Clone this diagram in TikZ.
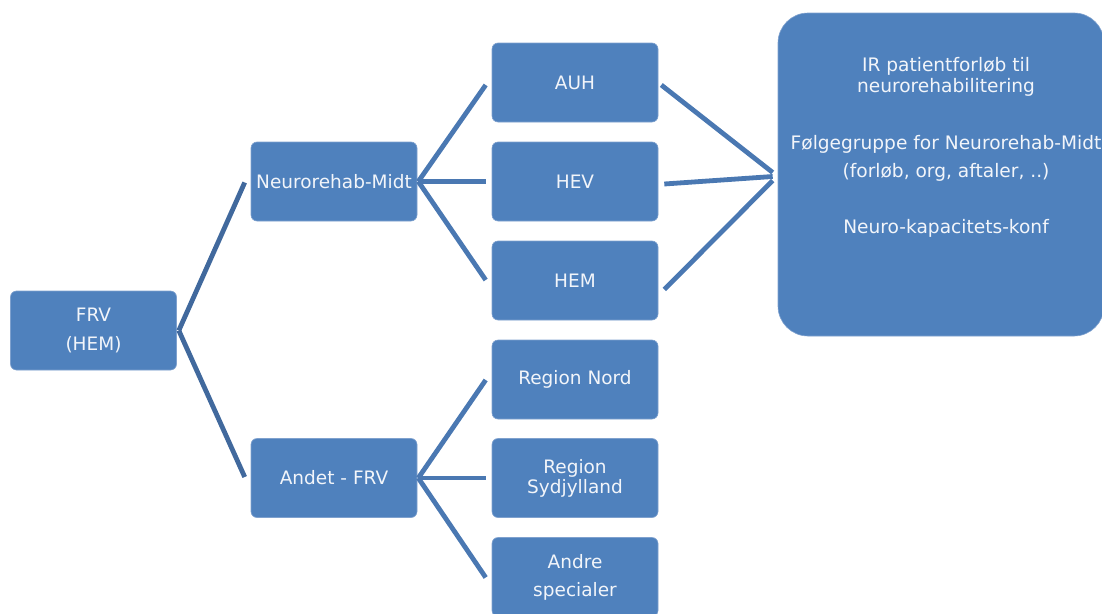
\documentclass[tikz,border=0pt]{standalone}
\usepackage{fontspec}
\setmainfont{DejaVu Sans}
\definecolor{boxfill}{HTML}{4F81BD}
\definecolor{boxline}{HTML}{7FA1CE}
\definecolor{conna}{HTML}{4A78B2}
\definecolor{connb}{HTML}{41699D}
\definecolor{txt}{HTML}{F2F5FA}
\tikzset{
  orgbox/.style={draw=boxline, line width=0.6pt, fill=boxfill, rounded corners=6pt,
    minimum width=166pt, minimum height=79pt, inner sep=0pt, align=center,
    text=txt, font=\fontsize{18.5}{21}\selectfont},
  bigbox/.style={draw=boxline, line width=0.6pt, fill=boxfill, rounded corners=30pt,
    minimum width=326pt, minimum height=323pt, inner sep=0pt},
  bigtxt/.style={align=center, text=txt, inner sep=0pt, font=\fontsize{18.6}{21}\selectfont},
  conn/.style={draw=conna, line width=4.8pt},
  connd/.style={draw=connb, line width=4.8pt},
}
\begin{document}
\begin{tikzpicture}[x=1pt,y=-1pt]
\useasboundingbox (0,0) rectangle (1102,613);
\clip (0,0) rectangle (1102,613);
% nodes
\node[orgbox] (frv) at (93.5,330.5) {FRV\\[8pt](HEM)};
\node[orgbox] (nm) at (334,181.5) {Neurorehab-Midt};
\node[orgbox] (af) at (334,478) {Andet - FRV};
\node[orgbox] (auh) at (575,82.5) {AUH};
\node[orgbox] (hev) at (575,181.5) {HEV};
\node[orgbox] (hem) at (575,280.5) {HEM};
\node[orgbox] (rn) at (575,379.5) {Region Nord};
\node[orgbox] (rs) at (575,478) {Region\\[-1pt]Sydjylland};
\node[orgbox] (as) at (575,577) {Andre\\[7pt]specialer};
\node[bigbox] (big) at (941,174.5) {};
\node[bigtxt] (t1) at (946,77) {IR patientforløb til\\[0pt]neurorehabilitering};
\node[bigtxt] (t2) at (946,158) {Følgegruppe for Neurorehab-Midt\\[7pt](forløb, org, aftaler, ..)};
\node[bigtxt] (t3) at (946,228) {Neuro-kapacitets-konf};
% connectors
\coordinate (frvR) at ([xshift=2pt]frv.east);
\draw[connd] (frvR) -- ([shift={(-6pt,-1pt)}]nm.west);
\draw[connd] (frvR) -- ([shift={(-6pt,1pt)}]af.west);
\coordinate (nmR) at ([xshift=1pt]nm.east);
\draw[conn] (nmR) -- ([shift={(-6pt,-2.5pt)}]auh.west);
\draw[conn] (nmR) -- ([xshift=-6pt]hev.west);
\draw[conn] (nmR) -- ([shift={(-6pt,0.5pt)}]hem.west);
\coordinate (afR) at ([xshift=1pt]af.east);
\draw[conn] (afR) -- ([shift={(-6pt,-0.5pt)}]rn.west);
\draw[conn] (afR) -- ([xshift=-6pt]rs.west);
\draw[conn] (afR) -- ([shift={(-6pt,-0.5pt)}]as.west);
\draw[conn] ([shift={(3pt,-2.5pt)}]auh.east) -- ([shift={(-5pt,2pt)}]big.west);
\draw[conn] ([shift={(6pt,-2.5pt)}]hev.east) -- ([shift={(-5pt,-2pt)}]big.west);
\draw[conn] ([shift={(6pt,-9pt)}]hem.east) -- ([shift={(-5pt,-6pt)}]big.west);
\end{tikzpicture}
\end{document}
